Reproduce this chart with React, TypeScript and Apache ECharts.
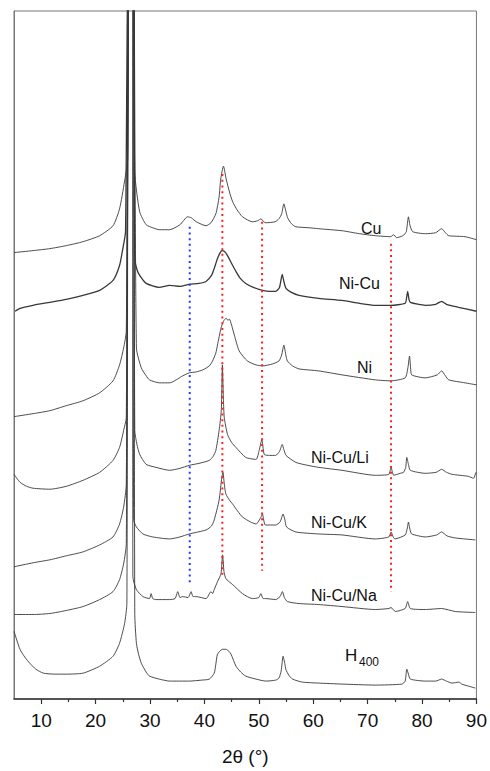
import { useEffect, useRef } from 'react';
import * as echarts from 'echarts';

const xMajor = [10, 20, 30, 40, 50, 60, 70, 80, 90];
const xMinor = [15, 25, 35, 45, 55, 65, 75, 85];

const traceNames = ['Cu', 'Ni-Cu', 'Ni', 'Ni-Cu/Li', 'Ni-Cu/K', 'Ni-Cu/Na', 'H400'];

const cu: [number, number][] = [
  [5.0, 449], [8.5, 451], [11.6, 453], [14.6, 456], [17.7, 460], [20.75, 466], [23.2, 476], [24.4, 493], [25.3, 520], [25.9, 543],
  [26.15, 800], [26.85, 800], [27.2, 530], [28.1, 490], [29.3, 477], [30.5, 474], [31.7, 472], [33.6, 472], [35.5, 477], [36.9, 485],
  [37.6, 484], [38.5, 480], [40.3, 476], [41.2, 479], [42.1, 488], [42.7, 505], [43.0, 523], [43.5, 536], [44.0, 523], [44.6, 510],
  [45.2, 500], [46.0, 492], [47.0, 485], [48.8, 480], [49.8, 481], [50.4, 483], [50.9, 480], [51.3, 479], [53.0, 480], [53.7, 483],
  [54.2, 488], [54.6, 498], [55.0, 490], [55.3, 484], [56.0, 478], [56.8, 475], [59.2, 474], [61.0, 473], [65.3, 471], [68.5, 468],
  [71.4, 466], [74.2, 465], [74.8, 467], [75.3, 464], [76.5, 466], [77.1, 470], [77.5, 485], [77.8, 476], [78.3, 470], [80.6, 468],
  [82.5, 469], [83.6, 473], [84.3, 469], [84.9, 466], [87.9, 465], [90, 462],
];

const niCu: [number, number][] = [
  [5.2, 390], [6.1, 393], [8.5, 396], [11.6, 399], [14.6, 402], [17.7, 406], [20.75, 411], [23.2, 421], [24.4, 436], [25.0, 453],
  [25.5, 470], [26.1, 800], [26.9, 800], [27.2, 443], [27.6, 432], [28.1, 426], [29.3, 418], [31.7, 414], [33.6, 416], [35.5, 415],
  [37.2, 417], [39.0, 418], [40.3, 420], [41.3, 426], [41.8, 433], [42.4, 443], [42.9, 449], [43.2, 451], [43.7, 450], [44.25, 446],
  [45.0, 438], [45.8, 430], [46.6, 423], [47.6, 418], [49.0, 414], [50.7, 411], [52.0, 410], [53.1, 410], [53.8, 414], [54.3, 427],
  [54.6, 420], [55.0, 413], [56.0, 409], [57.4, 406], [61.0, 403], [65.3, 401], [68.5, 398], [71.4, 396], [74.2, 396], [76.9, 398],
  [77.2, 405], [77.36, 410], [77.6, 402], [77.85, 399], [80.6, 396], [82.5, 397], [83.6, 400], [84.5, 397], [86.7, 394], [90, 390],
];

const ni: [number, number][] = [
  [5.0, 284], [8.5, 287], [11.6, 290], [14.6, 295], [17.7, 300], [20.75, 308], [23.2, 320], [24.4, 336], [25.15, 353], [25.64, 370],
  [26.2, 800], [26.9, 800], [27.5, 353], [28.4, 333], [29.3, 325], [29.9, 321], [31.7, 318], [33.6, 318], [36.0, 325], [37.2, 328],
  [38.5, 329], [39.7, 331], [40.9, 335], [41.5, 340], [42.1, 348], [42.4, 356], [43.05, 373], [43.5, 380], [44.0, 383], [44.3, 381],
  [44.6, 382], [45.0, 376], [45.5, 366], [46.4, 350], [47.9, 340], [49.5, 336], [50.7, 335], [52.5, 337], [53.7, 340], [54.2, 346],
  [54.6, 356], [55.0, 345], [55.25, 340], [56.2, 335], [57.4, 332], [61.0, 330], [65.3, 326], [71.4, 321], [74.2, 320], [76.9, 323],
  [77.4, 333], [77.7, 345], [77.9, 333], [78.1, 326], [80.6, 323], [82.8, 326], [83.6, 330], [84.3, 325], [84.9, 321], [87.9, 318],
  [90, 316],
];

const niCuLi: [number, number][] = [
  [5.0, 226], [6.1, 218], [7.3, 214], [8.5, 212], [11.6, 211], [14.65, 214], [17.7, 220], [20.75, 228], [23.2, 240], [24.4, 253],
  [25.15, 270], [25.64, 283], [26.1, 800], [26.9, 800], [27.2, 270], [27.6, 256], [28.1, 246], [29.3, 236], [31.1, 233], [33.6, 230],
  [35.5, 232], [37.2, 235], [39.0, 237], [40.9, 240], [41.6, 244], [42.1, 250], [42.7, 270], [43.1, 290], [43.3, 336], [43.5, 300],
  [43.65, 283], [44.25, 266], [45.0, 258], [45.8, 253], [47.6, 243], [49.5, 241], [50.06, 250], [50.56, 261], [51.0, 246], [52.0, 245],
  [53.1, 245], [53.8, 249], [54.3, 256], [54.6, 251], [55.0, 245], [56.8, 238], [59.0, 235], [61.0, 233], [65.3, 230], [71.4, 225],
  [73.9, 226], [74.3, 233], [74.8, 225], [76.0, 227], [76.6, 228], [77.0, 233], [77.2, 243], [77.5, 236], [77.85, 230], [80.6, 227],
  [82.6, 228], [83.6, 231], [84.5, 228], [85.5, 226], [88.5, 224], [89.45, 222], [89.9, 228],
];

const niCuK: [number, number][] = [
  [5.0, 133], [8.5, 137], [11.6, 140], [14.6, 144], [17.7, 148], [20.75, 155], [23.2, 163], [24.4, 176], [25.15, 193], [25.64, 216],
  [26.2, 800], [26.8, 800], [27.0, 180], [27.5, 173], [28.7, 166], [30.5, 163], [33.6, 161], [35.5, 163], [37.2, 166], [40.3, 170],
  [41.3, 174], [41.8, 180], [42.7, 200], [43.2, 223], [43.4, 228], [43.7, 214], [43.96, 206], [44.6, 200], [45.2, 196], [46.1, 189],
  [47.0, 183], [48.5, 178], [49.5, 176], [50.4, 183], [50.67, 186], [50.9, 180], [51.2, 175], [53.1, 175], [53.9, 178], [54.46, 186],
  [54.8, 180], [55.1, 173], [56.8, 168], [61.0, 166], [65.3, 165], [71.4, 161], [73.9, 163], [74.3, 168], [74.7, 163], [75.0, 161],
  [76.9, 165], [77.3, 172], [77.5, 178], [77.8, 170], [78.1, 166], [80.6, 163], [82.7, 165], [83.6, 168], [84.6, 164], [86.1, 162],
  [89.8, 160],
];

const niCuNa: [number, number][] = [
  [5.0, 85], [8.5, 85], [11.6, 86], [14.6, 89], [17.7, 93], [20.75, 100], [23.2, 108], [24.4, 120], [25.15, 136], [25.64, 156],
  [26.2, 800], [26.8, 800], [26.85, 123], [27.5, 110], [28.7, 103], [29.9, 101], [30.2, 106], [30.5, 101], [31.1, 100], [33.6, 100],
  [34.6, 101], [35.1, 108], [35.5, 102], [36.0, 103], [37.0, 102], [37.55, 108], [37.9, 103], [38.5, 103], [40.3, 101], [41.2, 108],
  [41.5, 106], [41.8, 110], [42.4, 118], [43.05, 126], [43.34, 145], [43.6, 128], [43.96, 121], [45.2, 115], [47.0, 106], [48.8, 101],
  [50.0, 102], [50.37, 106], [50.8, 101], [51.3, 101], [53.1, 100], [53.9, 103], [54.33, 108], [54.7, 102], [55.25, 98], [57.4, 96],
  [61.0, 95], [65.3, 93], [71.4, 90], [73.9, 91], [74.3, 92], [75.1, 88], [76.9, 91], [77.36, 98], [77.85, 91], [80.6, 90],
  [83.6, 91], [86.1, 88], [89.8, 87],
];

const h400: [number, number][] = [
  [5.0, 68], [6.1, 50], [7.0, 42], [7.9, 36], [9.0, 30], [10.4, 26], [12.5, 25], [14.65, 25], [17.7, 26], [20.75, 33],
  [23.2, 43], [24.4, 56], [25.33, 76], [25.75, 96], [26.1, 800], [26.9, 800], [27.2, 85], [27.5, 56], [27.9, 45], [28.4, 36],
  [29.3, 27], [29.9, 23], [31.7, 20], [33.6, 18], [37.2, 18], [39.5, 19], [40.9, 20], [41.8, 26], [42.1, 35], [42.4, 45],
  [43.3, 50], [43.96, 50], [44.5, 48], [44.9, 45], [45.8, 33], [46.7, 27], [47.6, 23], [49.5, 20], [51.3, 18], [53.1, 19],
  [53.7, 21], [54.1, 28], [54.46, 43], [54.8, 35], [54.95, 30], [55.5, 24], [56.2, 20], [58.0, 17], [61.0, 16], [65.3, 15],
  [71.4, 14], [76.3, 15], [76.9, 18], [77.2, 30], [77.5, 25], [77.85, 20], [80.6, 18], [82.5, 18], [83.6, 20], [84.5, 18],
  [85.5, 16], [86.8, 17], [87.3, 15], [89.8, 11],
];

const traces = [cu, niCu, ni, niCuLi, niCuK, niCuNa, h400];

const blueRef: [number, number][] = [[37.3, 475], [37.3, 115]];
const redRefs: [number, number][][] = [
  [[43.3, 528], [43.3, 125]],
  [[50.6, 480], [50.6, 129]],
  [[74.3, 458], [74.3, 108]],
];

const FONT = '"Liberation Sans", Arial, Helvetica, sans-serif';

export default function App() {
  const ref = useRef<HTMLDivElement>(null);
  useEffect(() => {
    const chart = echarts.init(ref.current!, null, { renderer: 'svg' });
    const lineSeries = traces.map((d, i) => ({
      type: 'line',
      name: traceNames[i],
      data: d,
      showSymbol: false,
      symbol: 'none',
      smooth: 0.2,
      clip: true,
      lineStyle: { color: '#383838', width: i === 1 ? 1.3 : 0.9 },
      z: 2,
    }));
    const refSeries = [
      {
        type: 'line', data: blueRef, symbol: 'none', z: 4,
        lineStyle: { color: '#1f3cff', width: 2, type: [2, 3.7] },
      },
      ...redRefs.map((d) => ({
        type: 'line', data: d, symbol: 'none', z: 4,
        lineStyle: { color: '#ff2020', width: 2, type: [2, 3.7] },
      })),
    ];
    const label = (text: string, x: number, y: number, size = 16) => ({
      type: 'text', x, y, z: 10,
      style: { text, fontSize: size, fontFamily: FONT, fill: '#111', verticalAlign: 'middle', align: 'left' },
    });
    chart.setOption({
      animation: false,
      backgroundColor: '#fff',
      grid: { left: 14, right: 12, top: 11, bottom: 68, show: true, borderColor: '#777', borderWidth: 1 },
      xAxis: [
        {
          type: 'value', min: 5, max: 90, position: 'bottom',
          axisLine: { show: true, onZero: false, lineStyle: { color: '#333', width: 1.5 } },
          axisTick: { show: true, customValues: xMajor, length: 5, lineStyle: { color: '#333', width: 1.2 } },
          axisLabel: { customValues: xMajor, margin: 12, fontSize: 19, color: '#111', fontFamily: FONT, showMaxLabel: true, showMinLabel: true },
          splitLine: { show: false },
          name: '2θ (°)', nameLocation: 'middle', nameGap: 48,
          nameTextStyle: { fontSize: 19, color: '#111', fontFamily: FONT },
        },
        {
          type: 'value', min: 5, max: 90, position: 'bottom',
          axisLine: { show: false },
          axisTick: { show: true, customValues: xMinor, length: 3, lineStyle: { color: '#333', width: 1.2 } },
          axisLabel: { show: false },
          splitLine: { show: false },
        },
      ],
      yAxis: {
        type: 'value', min: 0, max: 692,
        axisLine: { show: true, lineStyle: { color: '#777' } },
        axisTick: { show: false }, axisLabel: { show: false }, splitLine: { show: false },
      },
      graphic: [
        label('Cu', 361, 228),
        label('Ni-Cu', 339, 283),
        label('Ni', 357, 367),
        label('Ni-Cu/Li', 311, 457),
        label('Ni-Cu/K', 311, 522),
        label('Ni-Cu/Na', 311, 595),
        label('H', 345, 655, 17),
        label('400', 359, 662, 12),
      ],
      series: [...lineSeries, ...refSeries],
    });
    return () => chart.dispose();
  }, []);
  return (
    <div
      ref={ref}
      style={{ position: 'fixed', left: 0, top: 0, width: 490, height: 771, background: '#fff' }}
    />
  );
}
